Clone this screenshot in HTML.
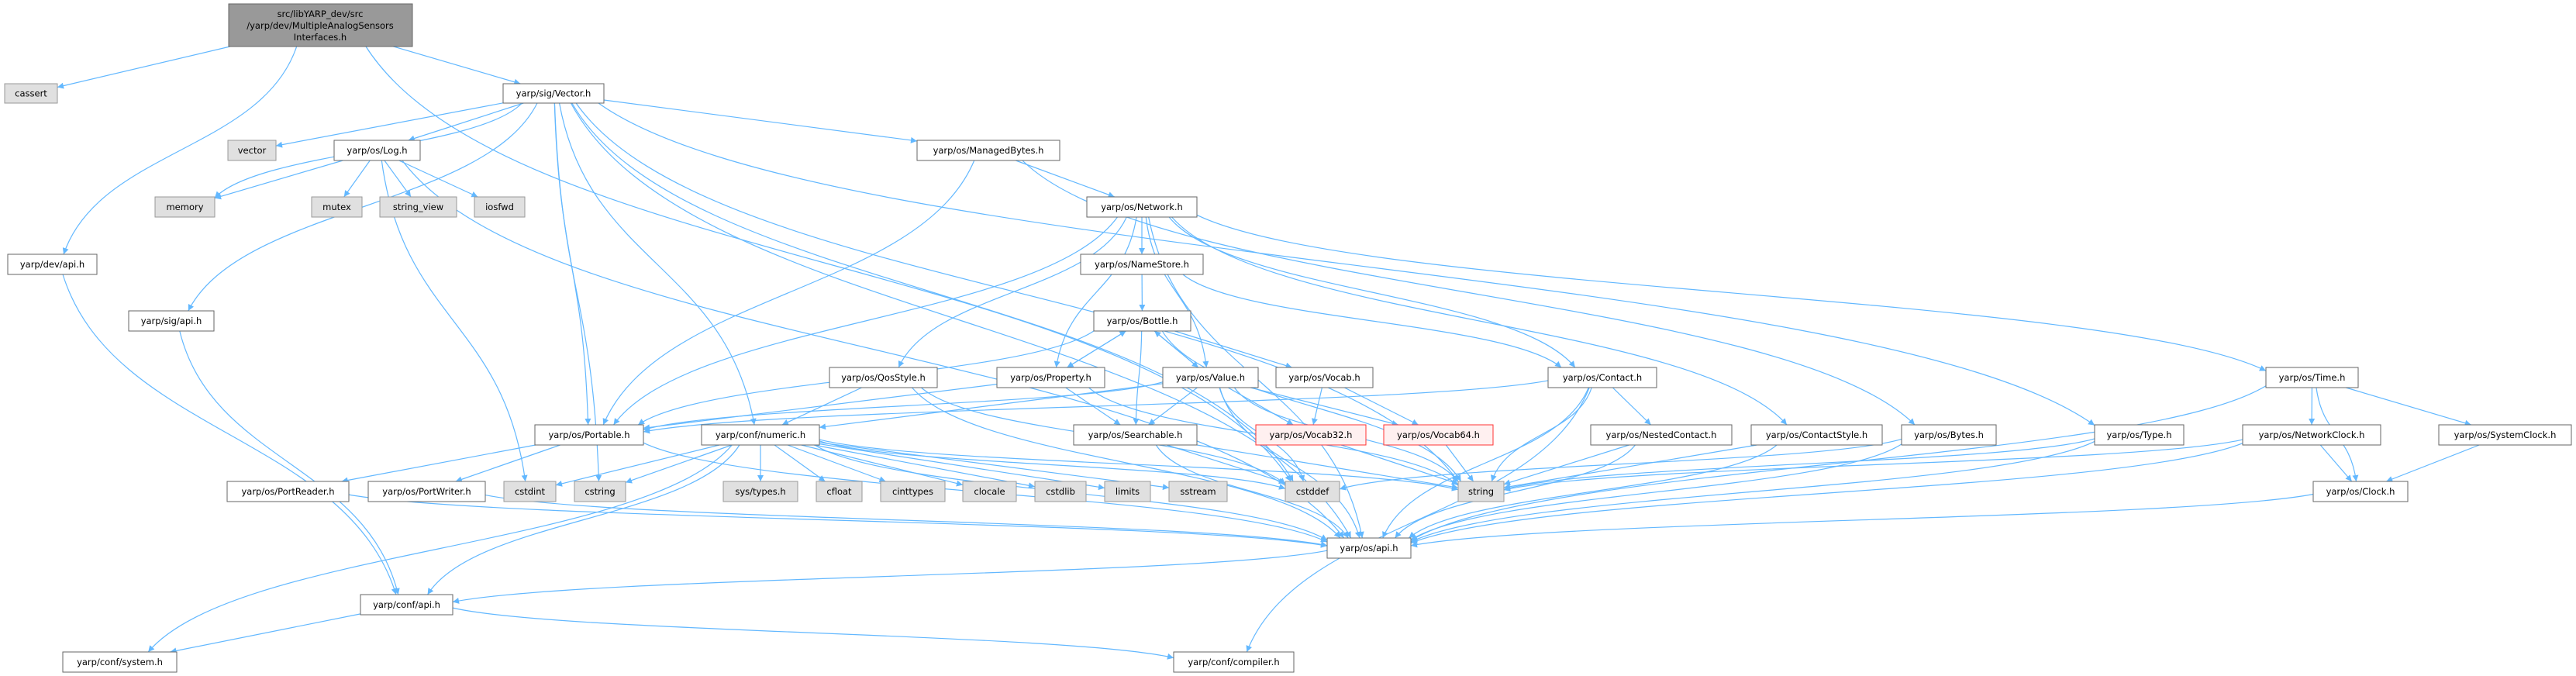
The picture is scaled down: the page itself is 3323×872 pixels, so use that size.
<!DOCTYPE html>
<html><head><meta charset="utf-8"><style>
html,body{margin:0;padding:0;background:#fff;}
svg{display:block;}
text{font-family:"DejaVu Sans","Liberation Sans",sans-serif;font-size:11.5px;fill:#000;}
</style></head><body>
<svg id="g" width="3323" height="872" viewBox="0 0 3323 872" xmlns="http://www.w3.org/2000/svg">
<defs><marker id="ah" viewBox="0 0 10 10" refX="10" refY="5" markerWidth="10" markerHeight="8" markerUnits="userSpaceOnUse" orient="auto"><path d="M0,0L10,5L0,10z" fill="#63b8ff"/></marker></defs>
<g id="edges" fill="none" stroke="#63b8ff" stroke-width="1.2"></g>
<g id="nodes">
<rect x="295" y="5" width="237" height="55" fill="#999" stroke="#666"/>
<text x="413" y="22" text-anchor="middle">src/libYARP_dev/src</text>
<text x="413" y="37" text-anchor="middle">/yarp/dev/MultipleAnalogSensors</text>
<text x="413" y="52" text-anchor="middle">Interfaces.h</text>
</g>
</svg>
<svg width="0" height="0" style="position:absolute">
<text>cassert yarp/sig/Vector.h vector yarp/os/Log.h memory mutex string_view iosfwd yarp/dev/api.h yarp/sig/api.h yarp/os/ManagedBytes.h yarp/os/Network.h yarp/os/NameStore.h yarp/os/Bottle.h yarp/os/QosStyle.h yarp/os/Property.h yarp/os/Value.h yarp/os/Vocab.h yarp/os/Contact.h yarp/os/Time.h yarp/os/Portable.h yarp/conf/numeric.h yarp/os/Searchable.h yarp/os/Vocab32.h yarp/os/Vocab64.h yarp/os/NestedContact.h yarp/os/ContactStyle.h yarp/os/Bytes.h yarp/os/Type.h yarp/os/NetworkClock.h yarp/os/SystemClock.h yarp/os/PortReader.h yarp/os/PortWriter.h cstdint cstring sys/types.h cfloat cinttypes clocale cstdlib limits sstream cstddef string yarp/os/Clock.h yarp/os/api.h yarp/conf/api.h yarp/conf/system.h yarp/conf/compiler.h</text>
</svg>
<script>
var N={
main:[295,5,237,55,"",0],
cassert:[6,108,68,25,"cassert",1],
Vector:[649,108,130,25,"yarp/sig/Vector.h",0],
vector:[294,181,62,26,"vector",1],
Log:[431,181,111,26,"yarp/os/Log.h",0],
memory:[200,254,77,26,"memory",1],
mutex:[402,254,65,26,"mutex",1],
sview:[490,254,99,26,"string_view",1],
iosfwd:[612,254,65,26,"iosfwd",1],
devapi:[10,328,115,26,"yarp/dev/api.h",0],
sigapi:[166,401,110,26,"yarp/sig/api.h",0],
MB:[1183,181,184,26,"yarp/os/ManagedBytes.h",0],
Net:[1402,254,142,26,"yarp/os/Network.h",0],
NS:[1394,328,158,26,"yarp/os/NameStore.h",0],
Bottle:[1411,401,125,26,"yarp/os/Bottle.h",0],
Qos:[1070,474,139,26,"yarp/os/QosStyle.h",0],
Prop:[1286,474,139,26,"yarp/os/Property.h",0],
Value:[1500,474,123,26,"yarp/os/Value.h",0],
Vocab:[1646,474,125,26,"yarp/os/Vocab.h",0],
Contact:[1997,474,140,26,"yarp/os/Contact.h",0],
Time:[2923,474,119,26,"yarp/os/Time.h",0],
Portable:[690,548,140,26,"yarp/os/Portable.h",0],
numeric:[905,548,152,26,"yarp/conf/numeric.h",0],
Search:[1385,548,159,26,"yarp/os/Searchable.h",0],
V32:[1620,548,142,26,"yarp/os/Vocab32.h",2],
V64:[1785,548,141,26,"yarp/os/Vocab64.h",2],
Nested:[2052,548,182,26,"yarp/os/NestedContact.h",0],
CStyle:[2259,548,169,26,"yarp/os/ContactStyle.h",0],
Bytes:[2453,548,122,26,"yarp/os/Bytes.h",0],
Type:[2702,548,115,26,"yarp/os/Type.h",0],
NClock:[2893,548,178,26,"yarp/os/NetworkClock.h",0],
SClock:[3146,548,171,26,"yarp/os/SystemClock.h",0],
PR:[293,621,157,26,"yarp/os/PortReader.h",0],
PW:[475,621,151,26,"yarp/os/PortWriter.h",0],
cstdint:[650,621,67,26,"cstdint",1],
cstring:[741,621,66,26,"cstring",1],
systypes:[933,621,96,26,"sys/types.h",1],
cfloat:[1053,621,59,26,"cfloat",1],
cinttypes:[1136,621,83,26,"cinttypes",1],
clocale:[1242,621,69,26,"clocale",1],
cstdlib:[1335,621,66,26,"cstdlib",1],
limits:[1425,621,59,26,"limits",1],
sstream:[1508,621,75,26,"sstream",1],
cstddef:[1658,621,70,26,"cstddef",1],
string:[1881,621,59,26,"string",1],
Clock:[2984,621,122,26,"yarp/os/Clock.h",0],
osapi:[1712,694,108,26,"yarp/os/api.h",0],
confapi:[465,767,119,26,"yarp/conf/api.h",0],
system:[81,841,147,26,"yarp/conf/system.h",0],
compiler:[1514,841,155,26,"yarp/conf/compiler.h",0]
};
var E=[
["main","cassert"],["main","devapi"],["main","Vector"],["main","cstddef"],
["Vector","vector"],["Vector","Log"],["Vector","memory"],["Vector","sigapi"],["Vector","Portable"],["Vector","MB"],["Vector","cstring"],["Vector","cstddef"],["Vector","osapi"],["Vector","Type"],["Vector","string"],["Vector","numeric"],
["Log","memory"],["Log","mutex"],["Log","sview"],["Log","iosfwd"],["Log","cstdint"],["Log","osapi"],
["devapi","confapi"],["sigapi","confapi"],
["MB","Net"],["MB","Bytes"],["MB","Portable"],
["Net","NS"],["Net","Portable"],["Net","Prop"],["Net","Qos"],["Net","Value"],["Net","Contact"],["Net","CStyle"],["Net","Time"],["Net","osapi"],
["NS","Bottle"],["NS","Contact"],
["Bottle","Prop"],["Bottle","Value"],["Bottle","Search"],["Bottle","Vocab"],["Bottle","Portable"],["Bottle","string"],
["Prop","Bottle"],["Prop","Search"],["Prop","Portable"],["Prop","string"],
["Value","Bottle"],["Value","Search"],["Value","V32"],["Value","V64"],["Value","Portable"],["Value","numeric"],["Value","string"],["Value","cstddef"],["Value","osapi"],
["Vocab","V32"],["Vocab","V64"],["V32","string"],["V64","string"],
["Contact","Nested"],["Contact","string"],["Contact","osapi"],["Contact","compiler"],["Contact","Portable"],
["Nested","string"],["Nested","osapi"],["CStyle","string"],["CStyle","osapi"],
["Bytes","cstddef"],["Bytes","osapi"],["Type","string"],["Type","osapi"],
["Time","NClock"],["Time","SClock"],["Time","Clock"],["Time","osapi"],
["NClock","Clock"],["NClock","osapi"],["NClock","string"],["SClock","Clock"],["Clock","osapi"],
["Search","string"],["Search","cstddef"],["Search","osapi"],
["Qos","numeric"],["Qos","cstddef"],["Qos","osapi"],
["Portable","PR"],["Portable","PW"],["Portable","osapi"],
["PR","osapi"],["PW","osapi"],
["numeric","cstdint"],["numeric","cstring"],["numeric","systypes"],["numeric","cfloat"],["numeric","cinttypes"],["numeric","clocale"],["numeric","cstdlib"],["numeric","limits"],["numeric","sstream"],["numeric","cstddef"],["numeric","string"],["numeric","confapi"],["numeric","system"],["numeric","osapi"],
["confapi","system"],["confapi","compiler"],["osapi","confapi"]
];
var ns="http://www.w3.org/2000/svg";
var eg=document.getElementById("edges"),ng=document.getElementById("nodes");
function el(t,a,p){var e=document.createElementNS(ns,t);for(var k in a)e.setAttribute(k,a[k]);p.appendChild(e);return e;}
function clip(n,tx,ty){var cx=n[0]+n[2]/2,cy=n[1]+n[3]/2,dx=tx-cx,dy=ty-cy;var sx=dx?(n[2]/2)/Math.abs(dx):1e9,sy=dy?(n[3]/2)/Math.abs(dy):1e9;var s=Math.min(sx,sy);return [cx+dx*s,cy+dy*s];}
E.forEach(function(e){var a=N[e[0]],b=N[e[1]];
var ac=[a[0]+a[2]/2,a[1]+a[3]/2],bc=[b[0]+b[2]/2,b[1]+b[3]/2];
var p=clip(a,bc[0],bc[1]),q=clip(b,ac[0],ac[1]);
var d;
if(Math.abs(q[1]-p[1])>60){var my=(p[1]+q[1])/2;d="M"+p[0]+","+p[1]+"C"+(p[0]+(q[0]-p[0])*0.15)+","+my+" "+(q[0]-(q[0]-p[0])*0.15)+","+my+" "+q[0]+","+q[1];}
else d="M"+p[0]+","+p[1]+"L"+q[0]+","+q[1];
el("path",{d:d,"marker-end":"url(#ah)"},eg);});
for(var k in N){if(k=="main")continue;var n=N[k];
var f=n[5]==1?"#e0e0e0":(n[5]==2?"#fff0f0":"#fff"),s=n[5]==1?"#999":(n[5]==2?"#ff3333":"#666");
el("rect",{x:n[0],y:n[1],width:n[2],height:n[3],fill:f,stroke:s},ng);
var t=el("text",{x:n[0]+n[2]/2,y:n[1]+n[3]/2+4,"text-anchor":"middle"},ng);t.textContent=n[4];}
</script>
</body></html>
